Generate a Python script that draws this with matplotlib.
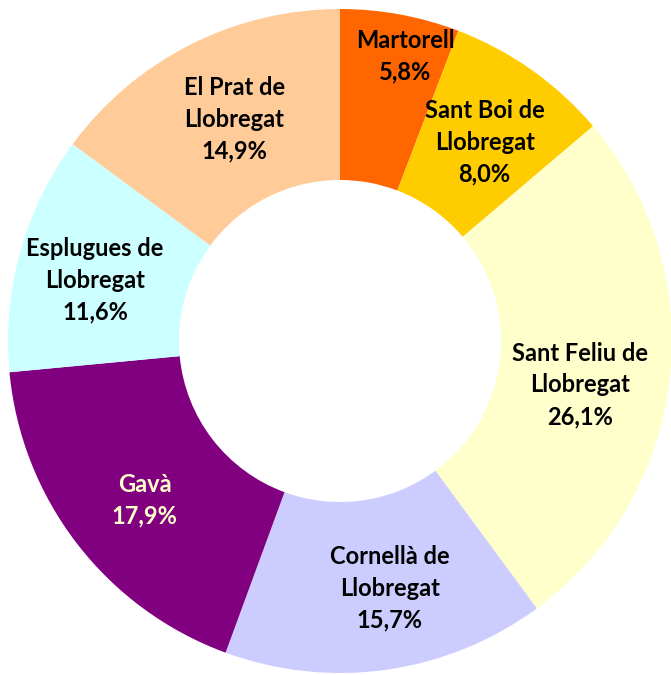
import numpy as np
import matplotlib
matplotlib.use('Agg')
import matplotlib.pyplot as plt

labels = ['Martorell', 'Sant Boi de\nLlobregat', 'Sant Feliu de\nLlobregat', 'Cornellà de\nLlobregat',
          'Gavà', 'Esplugues de\nLlobregat', 'El Prat de\nLlobregat']
values = [5.8, 8.0, 26.1, 15.7, 17.9, 11.6, 14.9]
colors = ['#FF6600', '#FFCC00', '#FFFFCC', '#CCCCFF', '#800080', '#CCFFFF', '#FFCC99']
text_colors = ['black', 'black', 'black', 'black', '#FFFFCC', 'black', 'black']
# label placement inside the ring: radius and angle shift from slice middle (deg)
label_r = [0.88, 0.74, 0.735, 0.76, 0.76, 0.76, 0.74]
label_shift = [-2.5, -0.8, -3.7, 3.3, 1.6, 1.5, -1.4]

plt.rcParams['font.family'] = ['Lato', 'DejaVu Sans']

fig = plt.figure(figsize=(6.71, 6.75), dpi=100)
ax = fig.add_axes([0, 0, 1, 1])

wedges, _ = ax.pie(values, colors=colors, startangle=90, counterclock=False, radius=1.0,
                   wedgeprops=dict(width=0.515, linewidth=0))

# place the ring: centre (340, 341) px from top-left, radius 332 px
R = 332.0
cx, cy = 340.0, 341.0
ax.set_xlim(-cx / R, (671 - cx) / R)
ax.set_ylim(-(675 - cy) / R, cy / R)
ax.set_aspect('equal')
ax.axis('off')

for w, lab, v, tc, r, sh in zip(wedges, labels, values, text_colors, label_r, label_shift):
    ang = np.deg2rad((w.theta1 + w.theta2) / 2 + sh)
    txt = f"{lab}\n{v:.1f}%".replace('.', ',')
    ax.text(r * np.cos(ang), r * np.sin(ang), txt, ha='center', va='center',
            fontsize=17, fontweight='bold', color=tc, linespacing=1.45)

fig.savefig('out.png', dpi=100, facecolor='white')
